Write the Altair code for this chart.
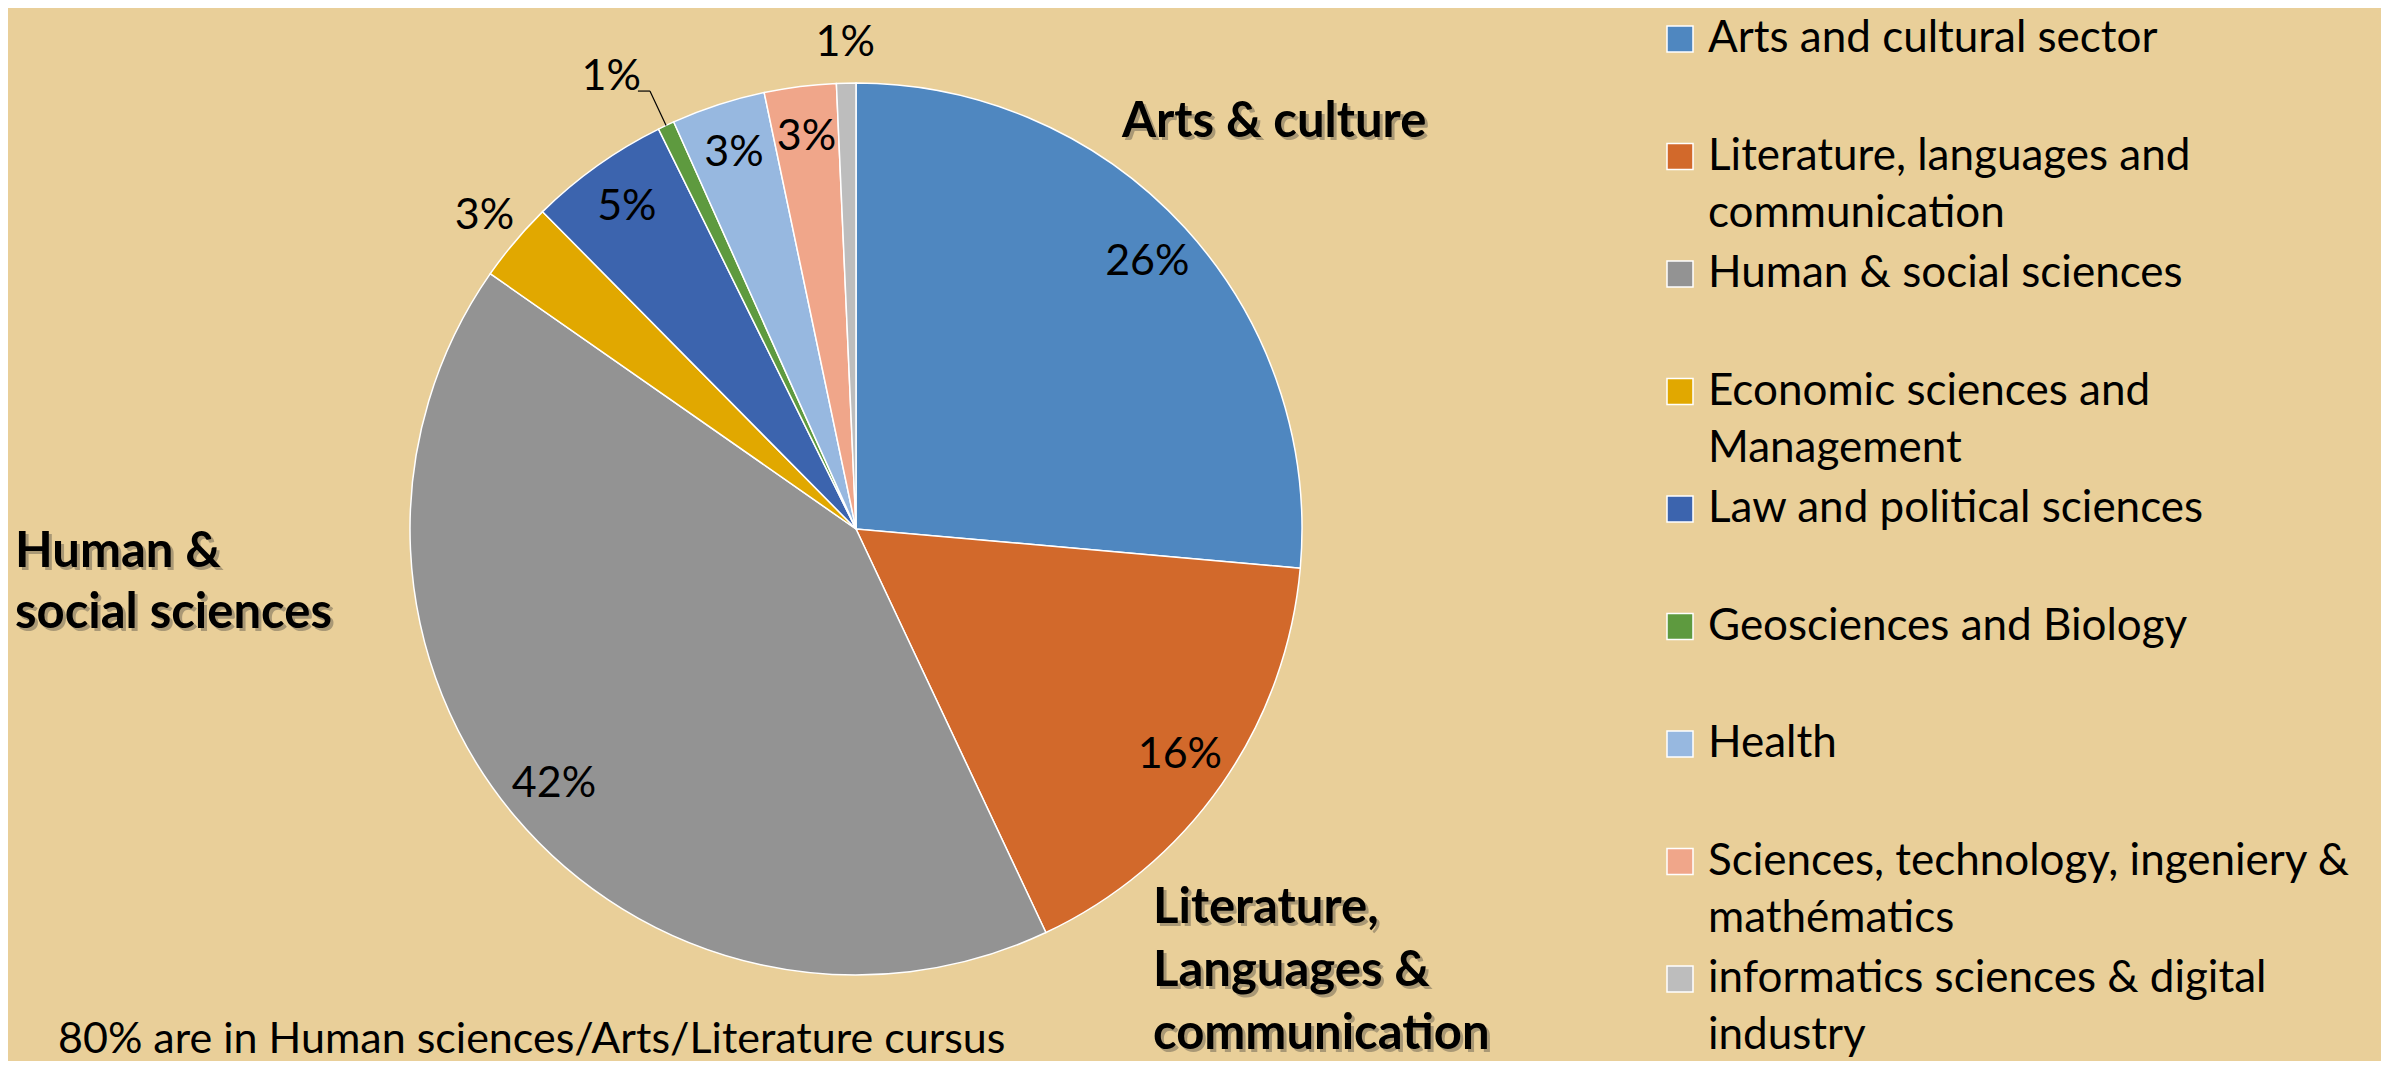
import altair as alt
import pandas as pd

# ---------------- data ----------------
categories = [
    "Arts and cultural sector",
    "Literature, languages and communication",
    "Human & social sciences",
    "Economic sciences and Management",
    "Law and political sciences",
    "Geosciences and Biology",
    "Health",
    "Sciences, technology, ingeniery & mathématics",
    "informatics sciences & digital industry",
]
legend_lines = [
    ["Arts and cultural sector"],
    ["Literature, languages and", "communication"],
    ["Human & social sciences"],
    ["Economic sciences and", "Management"],
    ["Law and political sciences"],
    ["Geosciences and Biology"],
    ["Health"],
    ["Sciences, technology, ingeniery &", "mathématics"],
    ["informatics sciences & digital", "industry"],
]
shares = [26.4, 16.6, 41.7, 2.9, 5.1, 0.6, 3.4, 2.6, 0.7]
pct_labels = ["26%", "16%", "42%", "3%", "5%", "1%", "3%", "3%", "1%"]
label_place = ["in", "in", "in", "out", "in", "leader", "in", "in", "out"]
colors = ["#4F87C0", "#D2692B", "#939393", "#E1A800", "#3C64AE",
          "#5E9A3F", "#97B8E0", "#F0A68A", "#BDBDBD"]

callouts = [
    ["Arts & culture"],
    ["Human &", "social sciences"],
    ["Literature,", "Languages &", "communication"],
]
footnote = "80% are in Human sciences/Arts/Literature cursus"

# ---------------- layout ----------------
W, H = 1696, 1042          # view; pie centred in it
CX, CY = W / 2, H / 2
R = 446
R_IN, R_OUT, R_LEAD = 395, 486, 514
FONT = "Lato"
BG = "#E9CF99"

df = pd.DataFrame({
    "idx": list(range(len(categories))),
    "category": categories,
    "share": shares,
    "pct": pct_labels,
    "place": label_place,
})
leg = pd.DataFrame({"idx": list(range(len(categories))),
                    "category": categories,
                    "lines": legend_lines})

color_scale = alt.Scale(domain=categories, range=colors)

pie = alt.Chart(df).mark_arc(outerRadius=R, stroke="white", strokeWidth=1.5).encode(
    theta=alt.Theta("share:Q", stack=True),
    color=alt.Color("category:N", scale=color_scale, legend=None),
    order=alt.Order("idx:Q"),
)

lab = alt.Chart(df).transform_joinaggregate(
    total="sum(share)"
).transform_window(
    cum="sum(share)", sort=[alt.SortField("idx")], frame=[None, 0]
).transform_calculate(
    ang="(datum.cum - datum.share/2)/datum.total*2*PI"
)


def polar_text(place, r, **kw):
    return lab.transform_filter(f"datum.place == '{place}'").transform_calculate(
        px=f"{CX} + {r}*sin(datum.ang)", py=f"{CY} - {r}*cos(datum.ang)"
    ).mark_text(font=FONT, fontSize=43, color="black", align="center",
                baseline="middle", **kw).encode(
        x=alt.X("px:Q", scale=None, axis=None),
        y=alt.Y("py:Q", scale=None, axis=None),
        text="pct:N",
    )


txt_in = polar_text("in", R_IN)
txt_out = polar_text("out", R_OUT)
txt_lead = polar_text("leader", R_LEAD, dx=-26, dy=13)

lead = lab.transform_filter("datum.place == 'leader'").transform_calculate(
    ax=f"{CX} + {R}*sin(datum.ang)", ay=f"{CY} - {R}*cos(datum.ang)",
    bx=f"{CX} + {R + 38}*sin(datum.ang)", by=f"{CY} - {R + 38}*cos(datum.ang)",
)
lead1 = lead.mark_rule(color="black", strokeWidth=1.2).encode(
    x=alt.X("ax:Q", scale=None, axis=None), y=alt.Y("ay:Q", scale=None, axis=None),
    x2="bx:Q", y2="by:Q")
lead2 = lead.transform_calculate(cx2="datum.bx - 12").mark_rule(
    color="black", strokeWidth=1.2).encode(
    x=alt.X("bx:Q", scale=None, axis=None), y=alt.Y("by:Q", scale=None, axis=None),
    x2="cx2:Q", y2="by:Q")

# manual legend
leg_base = alt.Chart(leg).transform_calculate(
    sy="31 + 117.5*datum.idx", ty="44 + 117.5*datum.idx")
leg_sq = leg_base.mark_point(shape="square", size=676, filled=True, opacity=1,
                             stroke="white", strokeWidth=1.5).encode(
    x=alt.value(1672),
    y=alt.Y("sy:Q", scale=None, axis=None),
    color=alt.Color("category:N", scale=color_scale, legend=None),
)
leg_tx = leg_base.mark_text(font=FONT, fontSize=44, align="left",
                            baseline="alphabetic", lineHeight=57,
                            color="black").encode(
    x=alt.value(1700),
    y=alt.Y("ty:Q", scale=None, axis=None),
    text="lines",
)


def callout(lines, x, y, lh):
    d = pd.DataFrame({"t": [lines]})
    layers = []
    for dx, dy, col, op in [(3, 3, "#333333", 0.35), (0, 0, "black", 1)]:
        layers.append(alt.Chart(d).mark_text(
            font=FONT, fontSize=49, fontWeight="bold", align="left",
            baseline="alphabetic", lineHeight=lh, color=col, opacity=op,
            dx=dx, dy=dy).encode(x=alt.value(x), y=alt.value(y), text="t"))
    return layers


co = []
co += callout(callouts[0], 1114, 129, 61)
co += callout(callouts[1], 7, 559, 61)
co += callout(callouts[2], 1145, 915, 63)

foot = alt.Chart(pd.DataFrame({"t": [footnote]})).mark_text(
    font=FONT, fontSize=43, align="left", baseline="alphabetic", color="black"
).encode(x=alt.value(50), y=alt.value(1045), text="t")

chart = alt.layer(pie, lead1, lead2, txt_in, txt_out, txt_lead, leg_sq, leg_tx,
                  *co, foot).properties(
    width=W, height=H,
    autosize=alt.AutoSizeParams(type="none"),
    padding={"left": 0, "top": 0, "right": 2373 - W, "bottom": 1053 - H},
    background=BG,
).configure_view(stroke=None)

chart.save("out.html", embed_options={"renderer": "svg", "actions": False})
